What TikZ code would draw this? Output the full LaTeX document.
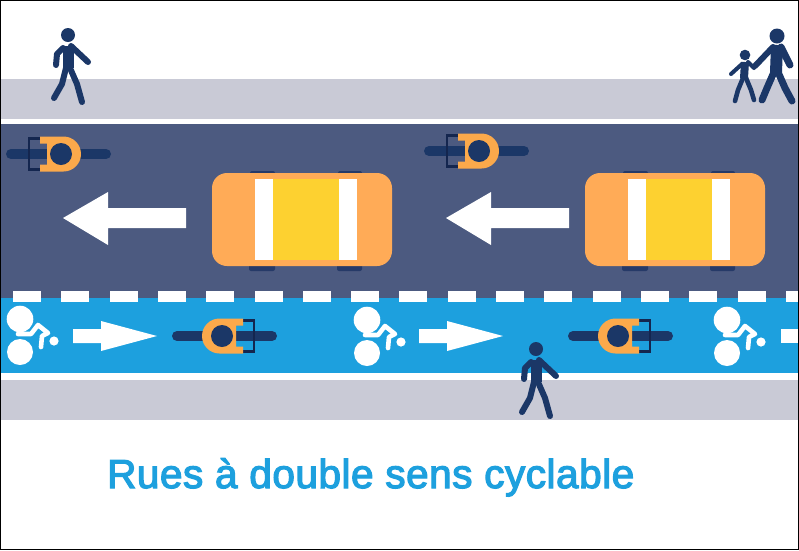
\documentclass[tikz,border=0pt]{standalone}
\usepackage{fontspec}
\newfontfamily\titlefont[FakeBold=3,LetterSpace=1.3]{Liberation Sans}
\definecolor{walkway}{HTML}{C9CAD6}
\definecolor{road}{HTML}{4C5A80}
\definecolor{lane}{HTML}{1DA0DE}
\definecolor{navy}{HTML}{1B3767}
\definecolor{darknavy}{HTML}{14264F}
\definecolor{wheel}{HTML}{263A68}
\definecolor{carbody}{HTML}{FFAB57}
\definecolor{riderback}{HTML}{FBA94B}
\definecolor{carroof}{HTML}{FDD130}
\tikzset{
  limb/.style={draw=navy, line cap=round, line join=round, line width=6pt},
  biglimb/.style={limb, line width=7pt},
  biketrace/.style={draw=white, line width=4.6pt, line join=round, line cap=round},
  cyclist/.pic={
    \draw[navy, line width=10pt, line cap=round] (-45,0) -- (50,0);
    \draw[darknavy, line width=2.2pt] (21,-15.5) -- (32,-15.5) -- (32,15.5) -- (21,15.5);
    \fill[navy] (12,-2) -- (24,-5) -- (24,5) -- (12,2) -- cycle;
    \fill[riderback] (21,-17.5) -- (-2.5,-17.5) arc[start angle=-90, end angle=-270, radius=17.5]
      -- (21,17.5) -- (21,10.5) -- (14,10.5) -- (14,-10.5) -- (21,-10.5) -- cycle;
    \fill[navy] (0,0) circle[radius=11];
  },
  bikesign/.pic={
    \fill[white] (0,0) circle[radius=13.3];
    \fill[white] (0,33) circle[radius=13];
    \fill[white] (34,22) circle[radius=4.6];
    \draw[biketrace] (-2,15) -- (11,15) -- (18,6) -- (28,14) -- (22,17) -- (21,28);
  },
  car/.pic={
    \fill[wheel, rounded corners=2pt] (38,-2) rectangle (63,5);
    \fill[wheel, rounded corners=2pt] (126,-2) rectangle (150,5);
    \fill[wheel, rounded corners=2pt] (37,88) rectangle (63,98);
    \fill[wheel, rounded corners=2pt] (125,88) rectangle (150,98);
    \fill[carbody, rounded corners=15pt] (0,0) rectangle (180,93);
    \fill[white] (43,6) rectangle (145,87);
    \fill[carroof] (61,6) rectangle (127,87);
  },
  walker/.pic={
    \fill[navy] (68,35) circle[radius=7];
    \draw[limb, line width=11pt, line cap=butt] (68,46) -- (68,68);
    \draw[limb] (63,48) -- (57,54) -- (56,65);
    \draw[limb] (71,46) -- (88,62);
    \draw[limb] (66,68) -- (62,84) -- (54,98);
    \draw[limb] (70,68) -- (77,84) -- (82,102);
  }
}
\begin{document}
\begin{tikzpicture}[x=1pt, y=-1pt]
  \useasboundingbox (0,0) rectangle (799,550);
  \fill[white] (0,0) rectangle (799,550);
  \fill[walkway] (0,79) rectangle (799,119);
  \fill[road] (0,124) rectangle (799,298);
  \fill[lane] (0,298) rectangle (799,373);
  \fill[walkway] (0,380) rectangle (799,420);
  \foreach \i in {0,...,16}
    \fill[white] (13+48.3*\i,291) rectangle ++(28,11);

  \foreach \dx in {0,383} {
    \fill[white] (63+\dx,218) -- (108+\dx,192) -- (108+\dx,208) -- (186+\dx,208)
      -- (186+\dx,228) -- (108+\dx,228) -- (108+\dx,245) -- cycle;
  }
  \foreach \dx in {0,346} {
    \fill[white] (157+\dx,336) -- (101+\dx,321) -- (101+\dx,329) -- (73+\dx,329)
      -- (73+\dx,343) -- (101+\dx,343) -- (101+\dx,351) -- cycle;
  }
  \fill[white] (799,329) rectangle (781,343);

  \pic at (212,173) {car};
  \pic at (585,173) {car};

  \pic[xscale=-1] at (61,154) {cyclist};
  \pic[xscale=-1] at (479,151) {cyclist};
  \pic at (222,336) {cyclist};
  \pic at (618,336) {cyclist};

  \pic at (20,319) {bikesign};
  \pic at (367,320) {bikesign};
  \pic at (727,320) {bikesign};

  \pic at (0,0) {walker};
  \pic at (468,314) {walker};

  \fill[navy] (777,36) circle[radius=7.5];
  \draw[biglimb, line width=12pt, line cap=butt] (777,45) -- (776,72);
  \draw[biglimb] (781,47) -- (790,65);
  \draw[limb] (773,47) -- (755,66);
  \draw[biglimb] (774,72) -- (767,88) -- (762,100);
  \draw[biglimb] (778,72) -- (785,88) -- (792,101);

  \fill[navy] (745,55) circle[radius=5.3];
  \draw[limb, line width=8pt, line cap=butt] (745,62) -- (744,78);
  \draw[limb, line width=4pt] (742,64) -- (731,74);
  \draw[limb, line width=4pt] (748,62) -- (754,68);
  \draw[limb, line width=4.6pt] (743,78) -- (738,90) -- (735,101);
  \draw[limb, line width=4.6pt] (746,78) -- (751,90) -- (754,100);

  \node[anchor=base west, inner sep=0pt, text=lane, font=\titlefont\fontsize{40.5}{41}\selectfont] (title) at (107,488) {Rues à double sens cyclable};

  \draw[black, line width=1pt] (0.5,0.5) rectangle (798.5,549.5);
\end{tikzpicture}
\end{document}
